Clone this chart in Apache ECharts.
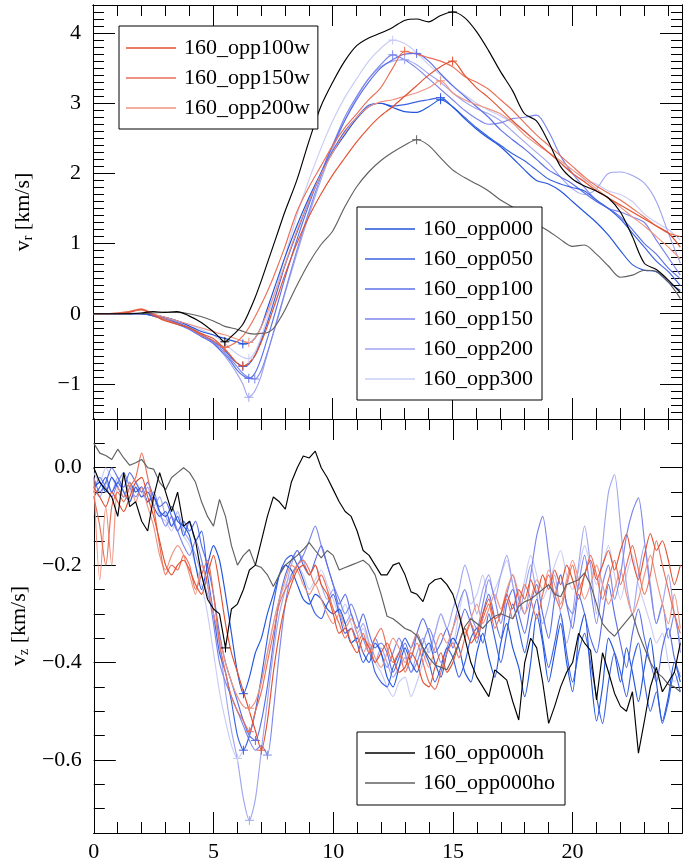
<!DOCTYPE html>
<html>
<head>
<meta charset="utf-8">
<script src="https://cdn.jsdelivr.net/npm/echarts@6/dist/echarts.min.js"></script>
<style>
html, body { margin: 0; padding: 0; background: #fff; }
#chart { width: 697px; height: 863px; }
</style>
</head>
<body>
<div id="chart"></div>
<script>
// ---- sample times for the two panels ----
const tTop = [0,0.5,1,1.5,2,2.5,3,3.5,4,4.5,
  5,5.25,5.5,5.75,6,6.25,6.5,6.75,7,7.25,7.5,7.75,
  8,8.5,9,9.5,10,10.5,11,11.5,12,12.5,13,13.5,14,14.5,15,15.5,16,16.5,
  17,17.5,18,18.5,19,19.5,20,20.5,21,21.5,22,22.5,23,23.5,24,24.5];

const tBot = [0,0.25,0.5,0.75, 1,1.25,1.5,1.75, 2,2.25,2.5,2.75, 3,3.25,3.5,3.75,
  4,4.25,4.5,4.75, 5,5.25,5.5,5.75, 6,6.25,6.5,6.75, 7,7.25,7.5,7.75,
  8,8.25,8.5,8.75, 9,9.25,9.5,9.75, 10,10.25,10.5,10.75, 11,11.25,11.5,11.75,
  12,12.25,12.5,12.75, 13,13.25,13.5,13.75, 14,14.25,14.5,14.75, 15,15.25,15.5,15.75,
  16,16.25,16.5,16.75, 17,17.25,17.5,17.75, 18,18.25,18.5,18.75, 19,19.25,19.5,19.75,
  20,20.25,20.5,20.75, 21,21.25,21.5,21.75, 22,22.25,22.5,22.75, 23,23.25,23.5,23.75,
  24,24.25,24.5];

// ---- v_r [km/s] ----
const vrOpp000h = [0,0,0,0,0.01,0.03,0.02,0.03,-0.03,-0.12,
  -0.25,-0.33,-0.4,-0.33,-0.25,-0.15,0.02,0.22,0.45,0.7,0.95,1.2,
  1.45,1.9,2.45,2.95,3.3,3.6,3.82,3.93,4.0,4.08,4.18,4.2,4.16,4.25,4.3,4.22,4.02,3.75,
  3.45,3.18,2.85,2.75,2.45,2.1,1.92,1.82,1.75,1.65,1.45,1.1,0.72,0.63,0.48,0.3];
const vrOpp000ho = [0,0,0,0,0,0.01,0.02,0.02,0,-0.04,
  -0.1,-0.14,-0.18,-0.2,-0.22,-0.25,-0.28,-0.29,-0.28,-0.27,-0.22,-0.1,
  0.05,0.4,0.72,0.98,1.18,1.52,1.81,2.02,2.18,2.3,2.4,2.48,2.4,2.22,2.05,1.94,1.85,1.75,
  1.62,1.52,1.4,1.28,1.18,1.06,0.96,0.98,0.85,0.68,0.52,0.55,0.62,0.6,0.45,0.22];
const vrOpp000 = [0,0,0,0,0,-0.02,-0.05,-0.1,-0.17,-0.25,
  -0.3,-0.33,-0.35,-0.38,-0.4,-0.43,-0.42,-0.35,-0.2,0.05,0.3,0.55,
  0.8,1.25,1.65,2.0,2.3,2.55,2.78,2.95,3.0,2.94,2.88,2.87,2.95,3.05,2.95,2.78,2.63,2.5,
  2.38,2.22,2.05,1.9,1.85,1.75,1.6,1.45,1.3,1.12,0.9,0.7,0.62,0.6,0.45,0.33];
const vrOpp050 = [0,0,0,0,0,-0.03,-0.08,-0.13,-0.2,-0.3,
  -0.38,-0.45,-0.52,-0.62,-0.7,-0.75,-0.72,-0.6,-0.4,-0.15,0.12,0.4,
  0.68,1.15,1.6,1.98,2.32,2.6,2.8,2.97,3.0,2.96,2.98,3.02,3.05,3.08,2.95,2.8,2.65,2.52,
  2.4,2.28,2.18,2.05,1.92,1.85,1.8,1.75,1.62,1.5,1.35,1.15,0.95,0.75,0.6,0.4];
const vrOpp100 = [0,0,0,0,0,-0.03,-0.08,-0.15,-0.22,-0.32,
  -0.42,-0.5,-0.58,-0.68,-0.8,-0.88,-0.92,-0.85,-0.65,-0.38,-0.1,0.2,
  0.5,1.05,1.55,2.0,2.4,2.75,3.05,3.3,3.5,3.62,3.7,3.71,3.6,3.42,3.25,3.1,2.95,2.8,
  2.62,2.48,2.35,2.2,2.05,1.95,1.85,1.72,1.6,1.5,1.38,1.2,1.0,0.85,0.65,0.5];
const vrOpp150 = [0,0,0,0.01,0,-0.02,-0.06,-0.12,-0.2,-0.3,
  -0.4,-0.48,-0.55,-0.65,-0.75,-0.85,-0.91,-0.93,-0.82,-0.58,-0.3,0.0,
  0.3,0.9,1.45,1.95,2.4,2.8,3.1,3.35,3.55,3.69,3.62,3.5,3.35,3.2,3.05,2.9,2.78,2.7,
  2.72,2.78,2.8,2.83,2.6,2.25,2.0,1.8,1.62,1.5,1.45,1.38,1.3,1.05,0.8,0.55];
const vrOpp200 = [0,0,0,0,0,-0.02,-0.05,-0.1,-0.18,-0.28,
  -0.4,-0.5,-0.6,-0.72,-0.85,-1.0,-1.19,-1.1,-0.9,-0.6,-0.3,-0.02,
  0.28,0.85,1.4,1.9,2.35,2.75,3.08,3.35,3.52,3.6,3.62,3.55,3.42,3.3,3.15,3.02,2.92,2.85,
  2.75,2.6,2.45,2.3,2.15,1.95,1.78,1.7,1.78,2.0,2.02,1.97,1.86,1.6,1.15,0.72];
const vrOpp300 = [0,0,0,0,0,-0.02,-0.05,-0.1,-0.15,-0.22,
  -0.3,-0.36,-0.42,-0.5,-0.57,-0.62,-0.64,-0.55,-0.35,-0.08,0.2,0.5,
  0.8,1.4,1.9,2.35,2.75,3.08,3.35,3.6,3.78,3.9,3.85,3.72,3.55,3.4,3.25,3.12,3.0,2.9,
  2.82,2.72,2.6,2.45,2.3,2.15,2.0,1.9,1.85,1.75,1.7,1.6,1.42,1.3,1.2,1.05];
const vrOpp100w = [0,0,0,0.02,0.06,-0.02,-0.1,-0.15,-0.2,-0.28,
  -0.35,-0.42,-0.5,-0.6,-0.7,-0.74,-0.7,-0.6,-0.42,-0.2,0.05,0.3,
  0.55,1.0,1.38,1.7,1.98,2.22,2.45,2.65,2.82,2.95,3.1,3.25,3.4,3.52,3.6,3.4,3.22,3.08,
  2.92,2.75,2.6,2.45,2.3,2.15,2.0,1.88,1.75,1.65,1.55,1.45,1.35,1.25,1.15,0.95];
const vrOpp150w = [0,0,0.01,0.03,0.07,0.0,-0.08,-0.14,-0.2,-0.3,
  -0.38,-0.44,-0.48,-0.45,-0.4,-0.32,-0.2,-0.05,0.12,0.3,0.5,0.72,
  0.95,1.45,1.8,2.1,2.4,2.65,2.85,3.05,3.22,3.5,3.74,3.7,3.65,3.6,3.52,3.38,3.3,3.2,
  3.05,2.9,2.72,2.55,2.4,2.25,2.1,1.95,1.82,1.72,1.62,1.5,1.38,1.25,1.15,1.1];
const vrOpp200w = [0,0,0.01,0.03,0.05,0.0,-0.05,-0.1,-0.15,-0.2,
  -0.25,-0.28,-0.3,-0.33,-0.36,-0.39,-0.41,-0.35,-0.2,0.0,0.22,0.45,
  0.7,1.18,1.6,1.98,2.3,2.58,2.8,2.95,3.02,3.05,3.1,3.15,3.22,3.32,3.15,3.05,2.98,2.92,
  2.85,2.72,2.55,2.42,2.3,2.18,2.05,1.92,1.78,1.65,1.52,1.38,1.25,1.1,0.95,0.78];

// ---- v_z [km/s] ----
const vzOpp000h = [0.0,-0.03,-0.045,-0.06, -0.1,-0.01,-0.08,-0.07, -0.11,-0.13,-0.06,-0.01,
  -0.05,-0.09,-0.05,-0.12, -0.11,-0.15,-0.22,-0.27, -0.29,-0.3,-0.37,-0.29,
  -0.28,-0.25,-0.21,-0.2, -0.15,-0.1,-0.06,-0.07, -0.085,-0.03,0.0,0.024,
  0.02,0.034,0.0,-0.02, -0.045,-0.07,-0.09,-0.1, -0.13,-0.17,-0.18,-0.2,
  -0.22,-0.22,-0.2,-0.195, -0.22,-0.255,-0.26,-0.275, -0.24,-0.23,-0.227,-0.24,
  -0.26,-0.3,-0.35,-0.4, -0.43,-0.45,-0.47,-0.415, -0.425,-0.436,-0.48,-0.518,
  -0.4,-0.35,-0.37,-0.44, -0.525,-0.49,-0.45,-0.42, -0.4,-0.34,-0.36,-0.375,
  -0.477,-0.38,-0.42,-0.463, -0.49,-0.5,-0.46,-0.586, -0.52,-0.45,-0.41,-0.46,
  -0.44,-0.42,-0.36];
const vzOpp000ho = [0.05,0.03,0.025,0.017, 0.038,0.02,0.005,0.01, 0.017,0.0,-0.003,-0.03,
  -0.045,-0.02,-0.01,0.0, -0.01,-0.03,-0.07,-0.1, -0.12,-0.065,-0.1,-0.16,
  -0.2,-0.18,-0.168,-0.2, -0.205,-0.22,-0.244,-0.22, -0.2,-0.19,-0.18,-0.168,
  -0.154,-0.17,-0.185,-0.17, -0.18,-0.21,-0.205,-0.2, -0.195,-0.19,-0.2,-0.22,
  -0.26,-0.305,-0.31,-0.32, -0.33,-0.335,-0.345,-0.37, -0.39,-0.405,-0.41,-0.415,
  -0.39,-0.36,-0.326,-0.31, -0.32,-0.33,-0.315,-0.305, -0.3,-0.305,-0.31,-0.285,
  -0.275,-0.27,-0.26,-0.25, -0.24,-0.26,-0.265,-0.24, -0.235,-0.23,-0.216,-0.24,
  -0.28,-0.32,-0.335,-0.346, -0.33,-0.315,-0.3,-0.34, -0.37,-0.4,-0.42,-0.43,
  -0.445,-0.45,-0.46];
const vzOpp000 = [-0.04,-0.03,-0.05,-0.02, -0.04,-0.06,-0.03,-0.05, -0.04,-0.07,-0.06,-0.09,
  -0.1,-0.08,-0.11,-0.12, -0.14,-0.2,-0.25,-0.2, -0.16,-0.19,-0.26,-0.34,
  -0.42,-0.464,-0.43,-0.38, -0.35,-0.3,-0.26,-0.22, -0.2,-0.21,-0.24,-0.27,
  -0.28,-0.26,-0.27,-0.29, -0.3,-0.29,-0.32,-0.36, -0.35,-0.38,-0.4,-0.36,
  -0.38,-0.43,-0.45,-0.41, -0.37,-0.4,-0.42,-0.38, -0.36,-0.4,-0.43,-0.38,
  -0.35,-0.37,-0.42,-0.44, -0.38,-0.34,-0.39,-0.43, -0.36,-0.32,-0.37,-0.41,
  -0.47,-0.4,-0.3,-0.36, -0.44,-0.38,-0.32,-0.4, -0.46,-0.35,-0.3,-0.42,
  -0.52,-0.45,-0.35,-0.38, -0.44,-0.37,-0.42,-0.48, -0.41,-0.35,-0.44,-0.52,
  -0.47,-0.4,-0.44];
const vzOpp050 = [-0.06,-0.04,-0.02,-0.05, -0.03,-0.05,-0.07,-0.04, -0.06,-0.05,-0.08,-0.1,
  -0.09,-0.12,-0.1,-0.14, -0.11,-0.15,-0.13,-0.22, -0.3,-0.38,-0.42,-0.48,
  -0.55,-0.58,-0.55,-0.5, -0.43,-0.35,-0.28,-0.22, -0.19,-0.18,-0.2,-0.23,
  -0.27,-0.3,-0.31,-0.28, -0.26,-0.3,-0.34,-0.33, -0.36,-0.4,-0.38,-0.42,
  -0.44,-0.45,-0.41,-0.38, -0.35,-0.37,-0.34,-0.37, -0.4,-0.44,-0.41,-0.37,
  -0.39,-0.43,-0.4,-0.35, -0.33,-0.36,-0.3,-0.35, -0.4,-0.34,-0.28,-0.33,
  -0.38,-0.32,-0.27,-0.35, -0.41,-0.36,-0.3,-0.38, -0.44,-0.38,-0.34,-0.4,
  -0.47,-0.525,-0.44,-0.38, -0.42,-0.47,-0.4,-0.36, -0.44,-0.5,-0.46,-0.525,
  -0.48,-0.42,-0.46];
const vzOpp100 = [-0.02,-0.05,-0.03,0.0, -0.02,-0.04,-0.01,-0.03, -0.05,-0.03,-0.06,-0.08,
  -0.07,-0.1,-0.13,-0.11, -0.13,-0.11,-0.16,-0.2, -0.26,-0.34,-0.4,-0.44,
  -0.48,-0.52,-0.55,-0.56, -0.52,-0.45,-0.36,-0.27, -0.22,-0.19,-0.17,-0.2,
  -0.22,-0.19,-0.16,-0.2, -0.24,-0.28,-0.26,-0.3, -0.33,-0.3,-0.34,-0.37,
  -0.36,-0.38,-0.42,-0.39, -0.36,-0.39,-0.34,-0.31, -0.34,-0.38,-0.36,-0.33,
  -0.37,-0.33,-0.29,-0.32, -0.36,-0.3,-0.26,-0.31, -0.35,-0.28,-0.25,-0.3,
  -0.34,-0.28,-0.24,-0.3, -0.35,-0.27,-0.22,-0.28, -0.33,-0.26,-0.3,-0.35,
  -0.38,-0.31,-0.24,-0.3, -0.36,-0.41,-0.34,-0.29, -0.35,-0.4,-0.44,-0.37,
  -0.33,-0.39,-0.43];
const vzOpp150 = [-0.05,-0.02,-0.04,-0.06, -0.03,-0.01,-0.04,-0.06, -0.04,-0.07,-0.05,-0.09,
  -0.12,-0.1,-0.13,-0.16, -0.18,-0.15,-0.19,-0.24, -0.32,-0.4,-0.44,-0.47,
  -0.5,-0.53,-0.56,-0.58, -0.57,-0.59,-0.5,-0.38, -0.28,-0.22,-0.2,-0.18,
  -0.15,-0.12,-0.16,-0.2, -0.24,-0.27,-0.3,-0.28, -0.31,-0.35,-0.38,-0.35,
  -0.38,-0.41,-0.38,-0.35, -0.38,-0.42,-0.4,-0.36, -0.33,-0.36,-0.4,-0.37,
  -0.33,-0.28,-0.25,-0.3, -0.33,-0.28,-0.23,-0.27, -0.32,-0.26,-0.22,-0.27,
  -0.3,-0.22,-0.14,-0.1, -0.18,-0.27,-0.22,-0.28, -0.3,-0.24,-0.18,-0.25,
  -0.32,-0.24,-0.2,-0.27, -0.22,-0.14,-0.09,-0.062, -0.15,-0.25,-0.32,-0.28,
  -0.35,-0.3,-0.38];
const vzOpp200 = [-0.04,-0.06,-0.03,-0.05, -0.02,-0.05,-0.07,-0.04, -0.06,-0.04,-0.08,-0.06,
  -0.1,-0.12,-0.09,-0.13, -0.15,-0.18,-0.22,-0.26, -0.3,-0.36,-0.46,-0.54,
  -0.6,-0.68,-0.724,-0.68, -0.58,-0.48,-0.38,-0.3, -0.25,-0.2,-0.17,-0.19,
  -0.22,-0.2,-0.24,-0.27, -0.25,-0.29,-0.32,-0.3, -0.34,-0.32,-0.36,-0.4,
  -0.37,-0.4,-0.43,-0.41, -0.39,-0.42,-0.38,-0.35, -0.38,-0.34,-0.3,-0.33,
  -0.29,-0.25,-0.2,-0.24, -0.3,-0.25,-0.22,-0.27, -0.22,-0.18,-0.24,-0.3,
  -0.25,-0.2,-0.26,-0.32, -0.28,-0.22,-0.3,-0.36, -0.3,-0.2,-0.12,-0.2,
  -0.3,-0.16,-0.05,-0.014, -0.12,-0.24,-0.3,-0.22, -0.16,-0.24,-0.32,-0.28,
  -0.22,-0.3,-0.36];
const vzOpp300 = [-0.01,-0.03,0.0,-0.02, -0.04,-0.02,-0.05,-0.03, -0.05,-0.07,-0.06,-0.1,
  -0.11,-0.13,-0.1,-0.14, -0.16,-0.2,-0.24,-0.3, -0.38,-0.46,-0.52,-0.57,
  -0.597,-0.58,-0.55,-0.5, -0.44,-0.38,-0.32,-0.27, -0.24,-0.22,-0.2,-0.22,
  -0.25,-0.23,-0.21,-0.24, -0.27,-0.3,-0.28,-0.32, -0.35,-0.33,-0.37,-0.4,
  -0.42,-0.45,-0.47,-0.44, -0.43,-0.47,-0.44,-0.4, -0.37,-0.34,-0.3,-0.33,
  -0.36,-0.3,-0.25,-0.28, -0.26,-0.22,-0.27,-0.25, -0.22,-0.19,-0.24,-0.28,
  -0.23,-0.18,-0.22,-0.27, -0.24,-0.2,-0.17,-0.22, -0.25,-0.21,-0.16,-0.2,
  -0.24,-0.2,-0.16,-0.22, -0.27,-0.22,-0.18,-0.24, -0.28,-0.32,-0.36,-0.34,
  -0.4,-0.44,-0.42];
const vzOpp100w = [-0.04,-0.06,-0.08,-0.05, -0.07,-0.09,-0.06,-0.03, -0.02,-0.06,-0.1,-0.15,
  -0.2,-0.22,-0.2,-0.19, -0.21,-0.24,-0.26,-0.22, -0.18,-0.24,-0.32,-0.38,
  -0.42,-0.46,-0.5,-0.54, -0.58,-0.52,-0.42,-0.34, -0.28,-0.24,-0.21,-0.2,
  -0.22,-0.2,-0.24,-0.26, -0.3,-0.34,-0.33,-0.36, -0.38,-0.35,-0.37,-0.4,
  -0.38,-0.36,-0.39,-0.42, -0.41,-0.38,-0.4,-0.44, -0.45,-0.41,-0.38,-0.42,
  -0.4,-0.36,-0.33,-0.36, -0.34,-0.3,-0.27,-0.31, -0.3,-0.26,-0.29,-0.25,
  -0.27,-0.23,-0.26,-0.22, -0.25,-0.21,-0.24,-0.2, -0.23,-0.27,-0.22,-0.19,
  -0.23,-0.2,-0.17,-0.21, -0.17,-0.137,-0.19,-0.23, -0.18,-0.135,-0.17,-0.15,
  -0.19,-0.24,-0.2];
const vzOpp150w = [-0.06,-0.12,-0.2,-0.08, -0.05,-0.07,-0.04,-0.02, 0.03,-0.02,-0.08,-0.16,
  -0.22,-0.2,-0.21,-0.18, -0.2,-0.25,-0.22,-0.19, -0.26,-0.36,-0.42,-0.47,
  -0.5,-0.52,-0.542,-0.5, -0.46,-0.4,-0.34,-0.28, -0.25,-0.23,-0.2,-0.19,
  -0.21,-0.24,-0.22,-0.25, -0.29,-0.32,-0.35,-0.33, -0.36,-0.34,-0.38,-0.35,
  -0.33,-0.37,-0.4,-0.38, -0.42,-0.39,-0.36,-0.4, -0.44,-0.455,-0.42,-0.38,
  -0.36,-0.39,-0.35,-0.32, -0.35,-0.31,-0.28,-0.33, -0.3,-0.27,-0.31,-0.28,
  -0.24,-0.27,-0.31,-0.26, -0.22,-0.26,-0.29,-0.24, -0.2,-0.25,-0.22,-0.18,
  -0.22,-0.27,-0.23,-0.19, -0.24,-0.2,-0.16,-0.21, -0.26,-0.22,-0.15,-0.2,
  -0.25,-0.3,-0.34];
const vzOpp200w = [-0.02,-0.23,-0.08,-0.2, -0.04,-0.06,-0.03,-0.07, -0.04,-0.08,-0.12,-0.18,
  -0.21,-0.18,-0.16,-0.18, -0.22,-0.26,-0.2,-0.24, -0.3,-0.35,-0.4,-0.44,
  -0.47,-0.49,-0.494,-0.48, -0.44,-0.38,-0.32,-0.27, -0.23,-0.2,-0.21,-0.24,
  -0.26,-0.24,-0.27,-0.3, -0.32,-0.3,-0.33,-0.31, -0.34,-0.38,-0.36,-0.39,
  -0.41,-0.38,-0.35,-0.37, -0.4,-0.37,-0.34,-0.38, -0.41,-0.37,-0.34,-0.36,
  -0.33,-0.3,-0.34,-0.31, -0.28,-0.32,-0.29,-0.26, -0.29,-0.25,-0.22,-0.26,
  -0.3,-0.27,-0.23,-0.25, -0.21,-0.24,-0.28,-0.23, -0.19,-0.23,-0.27,-0.24,
  -0.2,-0.24,-0.28,-0.25, -0.21,-0.26,-0.3,-0.27, -0.22,-0.18,-0.23,-0.28,
  -0.32,-0.26,-0.33];

// ---- axis tick labels ----
const tMajor = [0, 5, 10, 15, 20];
const vrMajor = [-1, 0, 1, 2, 3, 4];
const vzMajor = [-0.6, -0.4, -0.2, 0];

// ---- legend groups ----
const namesWind = ['160_opp100w', '160_opp150w', '160_opp200w'];
const namesOpp = ['160_opp000', '160_opp050', '160_opp100', '160_opp150', '160_opp200', '160_opp300'];
const namesHalo = ['160_opp000h', '160_opp000ho'];

// ---- drawing ----
const FONT = 'Liberation Serif';
const T_RANGE = [0, 24.57];
const VR_RANGE = [-1.5, 4.4];
const VZ_RANGE = [-0.75, 0.1];
const LINE_W = 1.15;

const runs = [
  { name: '160_opp300',   color: '#c9ccf6', vr: vrOpp300,   vz: vzOpp300 },
  { name: '160_opp200',   color: '#a0a6f0', vr: vrOpp200,   vz: vzOpp200 },
  { name: '160_opp150',   color: '#7c87ec', vr: vrOpp150,   vz: vzOpp150 },
  { name: '160_opp100',   color: '#5c70e6', vr: vrOpp100,   vz: vzOpp100 },
  { name: '160_opp050',   color: '#3d63e2', vr: vrOpp050,   vz: vzOpp050 },
  { name: '160_opp000',   color: '#2255dd', vr: vrOpp000,   vz: vzOpp000 },
  { name: '160_opp200w',  color: '#ee9482', vr: vrOpp200w,  vz: vzOpp200w },
  { name: '160_opp150w',  color: '#e96f57', vr: vrOpp150w,  vz: vzOpp150w },
  { name: '160_opp100w',  color: '#e2512f', vr: vrOpp100w,  vz: vzOpp100w },
  { name: '160_opp000ho', color: '#606060', vr: vrOpp000ho, vz: vzOpp000ho, noMin: true },
  { name: '160_opp000h',  color: '#000000', vr: vrOpp000h,  vz: vzOpp000h }
];

function pairs(xs, ys) { return xs.map((x, i) => [x, ys[i]]); }

// lowest point of the early dip (before t = 8)
function earlyMin(xs, ys, limit) {
  let k = 0;
  for (let i = 0; i < xs.length; i++) {
    if (xs[i] < limit && ys[i] < ys[k]) k = i;
  }
  return [xs[k], ys[k]];
}

function ladder(a, b, step) {
  const out = [];
  const n = Math.round((b - a) / step);
  for (let i = 0; i <= n; i++) out.push(Math.round((a + i * step) * 1000) / 1000);
  return out;
}

const PLUS = 'path://M0,5L10,5M5,0L5,10';
function plusMarks(color, data) {
  return {
    symbol: PLUS, symbolSize: 9, silent: true,
    label: { show: false },
    itemStyle: { color: 'none', borderColor: color, borderWidth: 1 },
    data: data
  };
}

const series = [];
runs.forEach(r => {
  series.push({
    name: r.name, type: 'line', xAxisIndex: 0, yAxisIndex: 0,
    data: pairs(tTop, r.vr), symbol: 'none', smooth: 0.3,
    lineStyle: { color: r.color, width: LINE_W }, itemStyle: { color: r.color },
    markPoint: plusMarks(r.color, r.noMin ? [{ type: 'max' }] : [{ type: 'max' }, { type: 'min' }])
  });
  const jagged = r.name === '160_opp000h' || r.name === '160_opp000ho';
  series.push({
    name: r.name, type: 'line', xAxisIndex: 4, yAxisIndex: 4,
    data: pairs(tBot, r.vz), symbol: 'none', smooth: jagged ? false : 0.25,
    lineStyle: { color: r.color, width: LINE_W }, itemStyle: { color: r.color },
    markPoint: r.noMin ? undefined : plusMarks(r.color, [{ coord: earlyMin(tBot, r.vz, 8) }])
  });
});

const labelStyle = { color: '#000', fontFamily: FONT, fontSize: 22 };

function axis(grid, pos, range, ticks, len, extra) {
  return Object.assign({
    type: 'value', gridIndex: grid, position: pos, min: range[0], max: range[1],
    splitLine: { show: false },
    axisLine: { show: true, onZero: false, lineStyle: { color: '#000', width: 1 } },
    axisTick: { show: true, inside: true, length: len, customValues: ticks,
                lineStyle: { color: '#000', width: 1 } },
    axisLabel: { show: false }
  }, extra || {});
}

const tMinor = ladder(0, 24, 1).filter(v => v % 5 !== 0);
const vrMinor = ladder(-1.5, 4.4, 0.1);
const vzMinor = ladder(-0.75, 0.1, 0.05);

const fmtVr = v => (v < 0 ? '\u2212' : '') + Math.abs(v);
const fmtVz = v => (v < 0 ? '\u2212' : '') + Math.abs(v).toFixed(1);

function nameStyle() {
  return {
    color: '#000', fontFamily: FONT, fontSize: 22,
    rich: {
      b: { color: '#000', fontFamily: FONT, fontSize: 22 },
      s: { color: '#000', fontFamily: FONT, fontSize: 14, padding: [10, 0, 0, 0] }
    }
  };
}

const xAxes = [
  axis(0, 'bottom', T_RANGE, tMajor, 21),
  axis(0, 'bottom', T_RANGE, tMinor, 11),
  axis(0, 'top', T_RANGE, tMajor, 21),
  axis(0, 'top', T_RANGE, tMinor, 11),
  axis(1, 'bottom', T_RANGE, tMajor, 21, {
    axisLabel: Object.assign({ show: true, customValues: tMajor, margin: 8 }, labelStyle)
  }),
  axis(1, 'bottom', T_RANGE, tMinor, 11),
  axis(1, 'top', T_RANGE, tMajor, 21),
  axis(1, 'top', T_RANGE, tMinor, 11)
];

const yAxes = [
  axis(0, 'left', VR_RANGE, vrMajor, 22, {
    axisLabel: Object.assign({ show: true, customValues: vrMajor, margin: 12, formatter: fmtVr,
                               padding: [6, 0, 0, 0] }, labelStyle),
    name: '{b|v}{s|r}{b| [km/s]}', nameLocation: 'middle', nameGap: 58, nameRotate: 90,
    nameTextStyle: nameStyle()
  }),
  axis(0, 'left', VR_RANGE, vrMinor, 11),
  axis(0, 'right', VR_RANGE, vrMajor, 22),
  axis(0, 'right', VR_RANGE, vrMinor, 11),
  axis(1, 'left', VZ_RANGE, vzMajor, 22, {
    axisLabel: Object.assign({ show: true, customValues: vzMajor, margin: 12, formatter: fmtVz,
                               padding: [4, 0, 0, 0] }, labelStyle),
    name: '{b|v}{s|z}{b| [km/s]}', nameLocation: 'middle', nameGap: 58, nameRotate: 90,
    nameTextStyle: nameStyle()
  }),
  axis(1, 'left', VZ_RANGE, vzMinor, 11),
  axis(1, 'right', VZ_RANGE, vzMajor, 22),
  axis(1, 'right', VZ_RANGE, vzMinor, 11)
];

function legendBox(names, left, top, padding) {
  return {
    data: names, left: left, top: top, orient: 'vertical',
    icon: 'rect', itemWidth: 50, itemHeight: 1.5, itemGap: 6,
    padding: padding, borderColor: '#000', borderWidth: 1, borderRadius: 0,
    backgroundColor: '#fff', selectedMode: false,
    textStyle: { color: '#000', fontFamily: FONT, fontSize: 22, lineHeight: 24, padding: [0, 0, 0, 3] }
  };
}

const chart = echarts.init(document.getElementById('chart'), null, { renderer: 'canvas' });
chart.setOption({
  animation: false,
  backgroundColor: '#fff',
  grid: [
    { left: 93, top: 5, width: 589, height: 414 },
    { left: 93, top: 419, width: 589, height: 414 }
  ],
  xAxis: xAxes,
  yAxis: yAxes,
  legend: [
    legendBox(namesWind, 119, 26, [10, 8, 9, 7]),
    legendBox(namesOpp, 357, 207, [10, 9, 9, 8]),
    legendBox(namesHalo, 357, 732, [9, 10, 10, 8])
  ],
  series: series
});
</script>
</body>
</html>
